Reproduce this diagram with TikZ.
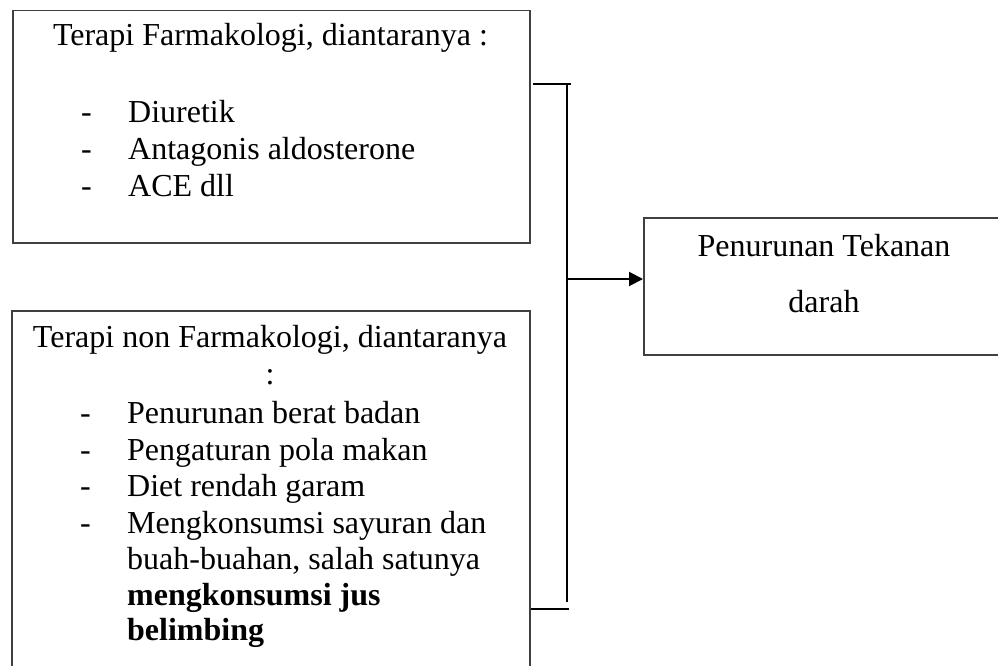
\documentclass[tikz,border=0pt]{standalone}
\usepackage{fontspec}
\setmainfont{Liberation Serif}
\usetikzlibrary{arrows.meta}
\begin{document}
\begin{tikzpicture}[x=1pt,y=-1pt,
  box/.style={draw=black!75,line width=1.5pt,rectangle,inner sep=0pt,anchor=north west},
  txt/.style={inner sep=0pt,anchor=base,font=\fontsize{32}{37}\selectfont},
  itm/.style={inner sep=0pt,anchor=base west,font=\fontsize{32}{37}\selectfont},
  bitm/.style={itm,font=\fontsize{32}{37}\selectfont\bfseries},
  brk/.style={draw=black,line width=2pt},
  arr/.style={draw=black,line width=2pt,-{Triangle[length=14pt,width=14pt]}}]
\useasboundingbox (0,0) rectangle (998,666);
\clip (0,0) rectangle (998,666);

% boxes
\node[box,minimum width=517pt,minimum height=232pt] (tb) at (12,10) {};
\node[box,minimum width=518pt,minimum height=380pt] (bb) at (11,310) {};
\node[box,minimum width=362pt,minimum height=137pt] (rb) at (643,217) {};

% top box text
\node[txt] (t1) at (270.5,46) {Terapi Farmakologi, diantaranya :};
\node[itm] (td1) at (81,123) {-};
\node[itm] (ti1) at (128,123) {Diuretik};
\node[itm] (td2) at (81,160) {-};
\node[itm] (ti2) at (128,160) {Antagonis aldosterone};
\node[itm] (td3) at (81,196) {-};
\node[itm] (ti3) at (128,196) {ACE dll};

% bottom box text
\node[txt] (b1) at (270,347) {Terapi non Farmakologi, diantaranya};
\node[txt] (b2) at (270,384) {:};
\node[itm] (bd1) at (80,423) {-};
\node[itm] (bi1) at (127,423) {Penurunan berat badan};
\node[itm] (bd2) at (80,460) {-};
\node[itm] (bi2) at (127,460) {Pengaturan pola makan};
\node[itm] (bd3) at (80,496.5) {-};
\node[itm] (bi3) at (127,496.5) {Diet rendah garam};
\node[itm] (bd4) at (80,533) {-};
\node[itm] (bi4) at (127,533) {Mengkonsumsi sayuran dan};
\node[itm] (bi5) at (127,569) {buah-buahan, salah satunya};
\node[bitm] (bi6) at (127,605) {mengkonsumsi jus};
\node[bitm] (bi7) at (127,640) {belimbing};

% right box text
\node[txt] (r1) at (824,256) {Penurunan Tekanan};
\node[txt] (r2) at (824,312) {darah};

% bracket
\coordinate (ta) at (533,84);
\coordinate (tc) at (571,84);
\coordinate (vt) at (567,85);
\coordinate (vb) at (567,602);
\coordinate (ba) at (531,609);
\coordinate (bc) at (569,609);
\coordinate (j) at (567,279);
\draw[brk] (ta) -- (tc);
\draw[brk] (vt) -- (vb);
\draw[brk] (ba) -- (bc);
\draw[arr] (j) -- (j -| rb.west);
\end{tikzpicture}
\end{document}
